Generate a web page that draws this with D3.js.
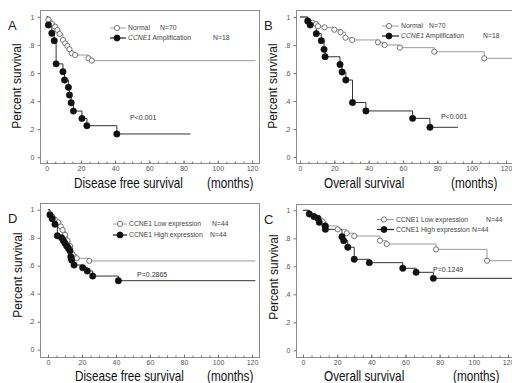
<!DOCTYPE html>
<html>
<head>
<meta charset="utf-8">
<script src="https://cdn.jsdelivr.net/npm/d3@7"></script>
<style>
  body { margin: 0; background: #fff; }
  svg { display: block; font-family: Arial, "Liberation Sans", sans-serif; }
</style>
</head>
<body>
<svg id="chart" width="512" height="383"></svg>
<script>
// ticks
const monthTicks = [0, 20, 40, 60, 80, 100, 120];
const monthMinorTicks = d3.range(0, 121, 5);
const survTicks = [0, 0.2, 0.4, 0.6, 0.8, 1];
const survTickLabels = ['0', '.2', '.4', '.6', '.8', '1'];

// [months, survival] at each mark
const dfsNormal = [[1.0, 0.98], [3.0, 0.95], [4.9, 0.93], [6.3, 0.906], [7.5, 0.878], [9.5, 0.835], [10.8, 0.811],
  [12.1, 0.792], [13.3, 0.769], [14.7, 0.74], [16.6, 0.728], [24.4, 0.705], [26.4, 0.688]];
const dfsAmp = [[1.0, 0.942], [3.0, 0.883], [4.4, 0.83], [5.5, 0.665], [9.5, 0.609], [10.4, 0.55], [12.7, 0.498],
  [13.3, 0.443], [14.3, 0.388], [15.6, 0.329], [20.6, 0.277], [23.5, 0.225], [41.0, 0.166]];
const osNormal = [[4.7, 0.968], [7.3, 0.959], [9.3, 0.95], [10.5, 0.934], [14.3, 0.926], [20, 0.909], [23.6, 0.891],
  [26.5, 0.852], [30.4, 0.836], [45.4, 0.819], [49.3, 0.80], [58.2, 0.781], [78.2, 0.752], [107.3, 0.705]];
const osAmp = [[4.5, 0.971], [5.9, 0.943], [9.5, 0.881], [12.4, 0.831], [14, 0.769], [14.6, 0.716], [23.3, 0.661],
  [24.5, 0.607], [26.7, 0.55], [30.6, 0.389], [38.4, 0.329], [65.6, 0.276], [75.7, 0.212]];
const dfsLow = [[1.0, 0.97], [2.5, 0.95], [4, 0.93], [6, 0.91], [7.5, 0.88], [8.6, 0.855], [10, 0.82], [11.5, 0.78],
  [13, 0.74], [14.5, 0.681], [16.9, 0.653], [24.3, 0.634]];
const dfsHigh = [[1.2, 0.962], [2.5, 0.935], [4.1, 0.896], [5.5, 0.814], [8, 0.80], [9, 0.78], [10, 0.76], [11, 0.741],
  [12, 0.725], [12.9, 0.707], [13.4, 0.664], [13.9, 0.641], [15.3, 0.605], [20.4, 0.586], [23.1, 0.562], [26.3, 0.526], [41.4, 0.493]];
const osLow = [[3.7, 0.974], [6.4, 0.96], [9.2, 0.943], [11.5, 0.919], [13.5, 0.888], [20.3, 0.864], [25.6, 0.836],
  [30, 0.816], [45, 0.783], [49, 0.759], [77.9, 0.721], [107.7, 0.64]];
const osHigh = [[3.7, 0.974], [6.4, 0.955], [8.6, 0.943], [9.5, 0.914], [12.9, 0.888], [13.1, 0.864], [22.8, 0.811],
  [23.8, 0.783], [26.2, 0.736], [30, 0.65], [38.8, 0.626], [58.4, 0.586], [66.2, 0.557], [76.3, 0.514]];

// last follow-up (months) of each curve
const followUp = { dfsNormal: 122, dfsAmp: 84, osNormal: 124, osAmp: 92, dfsLow: 122, dfsHigh: 122, osLow: 124, osHigh: 124 };

const ampGroups = ['Normal', 'Amplification'];
const ampCounts = ['N=70', 'N=18'];
const exprGroups = ['CCNE1 Low expression', 'CCNE1 High expression'];
const exprCounts = ['N=44', 'N=44'];
const pValues = ['P<0.001', 'P<0.001', 'P=0.2865', 'P=0.1249'];

const svg = d3.select('#chart');
const squeeze = 0.84;

const panels = [
  { label: 'A', frame: [40, 10, 259, 163], xr: [46.7, 252], yr: [157.3, 16.8], title: 'Disease free survival',
    titleX: 74, monthsX: 207, base: 188, yTitle: [21, 86],
    series: [{ data: dfsNormal, end: followUp.dfsNormal, open: true }, { data: dfsAmp, end: followUp.dfsAmp }],
    legend: { cx: 117, rows: [28, 38], tx: 128, nx: [160, 213], names: ampGroups, counts: ampCounts, gene: [false, true] },
    p: pValues[0], pAt: [48.7, 0.28] },
  { label: 'B', frame: [296, 10, 515, 163], xr: [300, 506], yr: [157, 17], title: 'Overall survival',
    titleX: 324, monthsX: 451, base: 188, yTitle: [277, 86],
    series: [{ data: osNormal, end: followUp.osNormal, open: true }, { data: osAmp, end: followUp.osAmp }],
    legend: { cx: 389, rows: [26, 36], tx: 401, nx: [429, 483], names: ampGroups, counts: ampCounts, gene: [false, true] },
    p: pValues[1], pAt: [82.1, 0.286] },
  { label: 'D', frame: [40, 203, 259, 357], xr: [48, 252], yr: [349.7, 209.7], title: 'Disease free survival',
    titleX: 75, monthsX: 207, base: 381, yTitle: [22, 275],
    series: [{ data: dfsLow, end: followUp.dfsLow, open: true }, { data: dfsHigh, end: followUp.dfsHigh }],
    legend: { cx: 120, rows: [224, 235], tx: 129, nx: [212, 210], names: exprGroups, counts: exprCounts, gene: [false, false] },
    p: pValues[2], pAt: [52.4, 0.54] },
  { label: 'C', frame: [296, 204, 515, 357], xr: [303, 508], yr: [350.3, 210.3], title: 'Overall survival',
    titleX: 324, monthsX: 453, base: 381, yTitle: [278, 277],
    series: [{ data: osLow, end: followUp.osLow, open: true }, { data: osHigh, end: followUp.osHigh }],
    legend: { cx: 384, rows: [219.5, 229.5], tx: 396, nx: [486, 472], names: exprGroups, counts: exprCounts, gene: [false, false] },
    p: pValues[3], pAt: [76.1, 0.574] }
];

function squeezed(g, x, y, str, size) {
  return g.append('text')
    .attr('transform', `translate(${x},${y}) scale(${squeeze},1)`)
    .attr('font-size', size)
    .attr('fill', '#111')
    .text(str);
}

panels.forEach(p => {
  const [fx0, fy0, fx1, fy1] = p.frame;
  const x = d3.scaleLinear().domain([0, 120]).range(p.xr);
  const y = d3.scaleLinear().domain([0, 1]).range(p.yr);
  const g = svg.append('g');

  g.append('rect')
    .attr('x', fx0 + 0.5).attr('y', fy0 + 0.5)
    .attr('width', fx1 - fx0).attr('height', fy1 - fy0)
    .attr('fill', 'none').attr('stroke', '#8c8c8c');

  // y axis
  const ya = g.append('g')
    .attr('transform', `translate(${fx0 + 0.5},0)`)
    .call(d3.axisLeft(y).tickValues(survTicks).tickFormat((d, i) => survTickLabels[i]).tickSize(3).tickPadding(3));
  ya.select('.domain').remove();

  // x axis, minor then major
  const xm = g.append('g')
    .attr('transform', `translate(0,${fy1 + 0.5})`)
    .call(d3.axisBottom(x).tickValues(monthMinorTicks).tickFormat('').tickSize(-2));
  xm.select('.domain').remove();
  const xa = g.append('g')
    .attr('transform', `translate(0,${fy1 + 0.5})`)
    .call(d3.axisBottom(x).tickValues(monthTicks).tickSizeInner(-3).tickSizeOuter(0).tickPadding(3));
  xa.select('.domain').remove();

  [ya, xm, xa].forEach(a => {
    a.selectAll('line').attr('stroke', '#777');
    a.selectAll('text').attr('font-size', 7).attr('fill', '#555').attr('font-family', 'Arial, "Liberation Sans", sans-serif');
  });

  // curves
  const line = d3.line().x(d => x(d[0])).y(d => y(d[1])).curve(d3.curveStepAfter);
  p.series.forEach(s => {
    const pts = [[0, 1], ...s.data, [s.end, s.data[s.data.length - 1][1]]];
    g.append('path').datum(pts)
      .attr('d', line)
      .attr('fill', 'none')
      .attr('stroke', s.open ? '#9a9a9a' : '#333')
      .attr('stroke-width', 1);
  });
  p.series.forEach(s => {
    g.selectAll(null).data(s.data).join('circle')
      .attr('cx', d => x(d[0])).attr('cy', d => y(d[1]))
      .attr('r', s.open ? 2.6 : 3.2)
      .attr('fill', s.open ? '#fff' : '#111')
      .attr('stroke', s.open ? '#666' : '#111')
      .attr('stroke-width', s.open ? 0.9 : 0.5);
  });

  // legend
  const L = p.legend;
  L.rows.forEach((ry, i) => {
    const open = i === 0;
    g.append('line')
      .attr('x1', L.cx - 7).attr('x2', L.tx - 2).attr('y1', ry).attr('y2', ry)
      .attr('stroke', open ? '#888' : '#222').attr('stroke-width', open ? 0.8 : 1.2);
    g.append('circle')
      .attr('cx', L.cx).attr('cy', ry).attr('r', open ? 2.6 : 3)
      .attr('fill', open ? '#fff' : '#111').attr('stroke', open ? '#666' : '#111').attr('stroke-width', 0.9);
    const t = g.append('text').attr('x', L.tx).attr('y', ry + 2.4)
      .attr('font-size', 6.8).attr('fill', '#444');
    if (L.gene[i]) {
      t.append('tspan').attr('font-style', 'italic').text('CCNE1');
      t.append('tspan').text(' ' + L.names[i]);
    } else {
      t.text(L.names[i]);
    }
    g.append('text').attr('x', L.nx[i]).attr('y', ry + 2.4)
      .attr('font-size', 6.8).attr('fill', '#444').text(L.counts[i]);
  });

  // p value
  g.append('text')
    .attr('x', x(p.pAt[0])).attr('y', y(p.pAt[1]) + 2.5)
    .attr('font-size', 7).attr('fill', '#333').text(p.p);

  // titles
  squeezed(g, p.titleX, p.base, p.title, 14);
  squeezed(g, p.monthsX, p.base, '(months)', 14);
  g.append('text')
    .attr('transform', `translate(${p.yTitle[0]},${p.yTitle[1]}) rotate(-90)`)
    .attr('text-anchor', 'middle')
    .attr('font-size', 12).attr('fill', '#111')
    .text('Percent survival');

  g.append('text')
    .attr('x', fx0 - 32).attr('y', fy0 + 20)
    .attr('font-size', 13).attr('fill', '#222')
    .text(p.label);
});
</script>
</body>
</html>
